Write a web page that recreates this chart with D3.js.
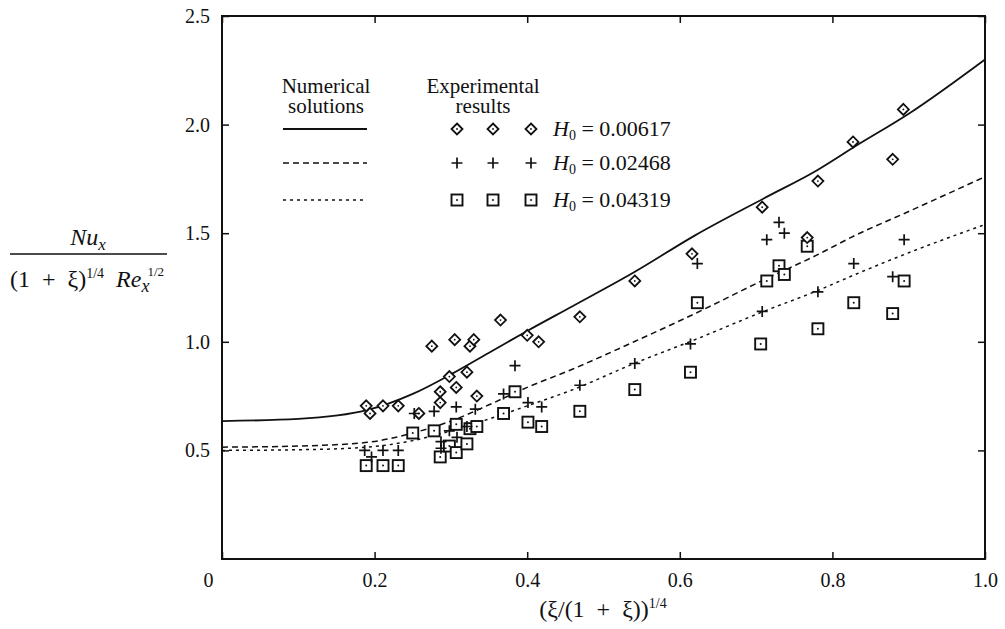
<!DOCTYPE html>
<html>
<head>
<meta charset="utf-8">
<script src="https://cdn.jsdelivr.net/npm/d3@7"></script>
<style>
body { margin: 0; background: #fff; }
svg { display: block; }
text { font-family: "Liberation Serif", "DejaVu Serif", serif; fill: #111; white-space: pre; }
</style>
</head>
<body>
<svg width="1005" height="629"></svg>
<script>
// values
var xTicks = [0, 0.2, 0.4, 0.6, 0.8, 1.0];
var yTicks = [0.5, 1.0, 1.5, 2.0, 2.5];

// numerical solutions (curves), read at these x positions
var curveX = [0, 0.1, 0.19, 0.25, 0.3, 0.35, 0.4, 0.46, 0.54, 0.62, 0.71, 0.78, 0.83, 0.9, 1.0];
var curveSolid = [0.635, 0.645, 0.685, 0.76, 0.85, 0.95, 1.05, 1.165, 1.32, 1.49, 1.66, 1.79, 1.90, 2.05, 2.30];
var curveDashed = [0.515, 0.52, 0.537, 0.58, 0.635, 0.71, 0.79, 0.875, 1.00, 1.13, 1.285, 1.40, 1.49, 1.60, 1.76];
var curveDotted = [0.50, 0.503, 0.515, 0.545, 0.59, 0.645, 0.705, 0.78, 0.90, 1.01, 1.14, 1.235, 1.31, 1.41, 1.54];

// experimental results, H0 = 0.00617 (diamonds)
var diamondX = [0.189, 0.194, 0.211, 0.231, 0.258, 0.275, 0.286, 0.286, 0.298, 0.305, 0.307, 0.321, 0.325, 0.33, 0.334, 0.365, 0.40, 0.415, 0.469, 0.541, 0.616, 0.708, 0.767, 0.781, 0.827, 0.879, 0.893];
var diamondY = [0.705, 0.67, 0.705, 0.705, 0.67, 0.98, 0.77, 0.72, 0.84, 1.01, 0.79, 0.86, 0.98, 1.01, 0.75, 1.10, 1.03, 1.00, 1.115, 1.28, 1.405, 1.62, 1.48, 1.74, 1.92, 1.84, 2.07];

// H0 = 0.02468 (plus)
var plusX = [0.187, 0.196, 0.211, 0.231, 0.252, 0.278, 0.287, 0.287, 0.298, 0.307, 0.308, 0.321, 0.332, 0.369, 0.384, 0.401, 0.419, 0.469, 0.541, 0.614, 0.623, 0.708, 0.714, 0.730, 0.737, 0.781, 0.828, 0.879, 0.894];
var plusY = [0.50, 0.47, 0.50, 0.50, 0.67, 0.68, 0.54, 0.51, 0.59, 0.70, 0.56, 0.61, 0.69, 0.76, 0.89, 0.72, 0.70, 0.80, 0.90, 0.99, 1.36, 1.14, 1.47, 1.55, 1.50, 1.23, 1.36, 1.30, 1.47];

// H0 = 0.04319 (squares)
var squareX = [0.189, 0.211, 0.231, 0.25, 0.278, 0.286, 0.298, 0.307, 0.307, 0.321, 0.325, 0.334, 0.369, 0.384, 0.401, 0.419, 0.469, 0.541, 0.614, 0.623, 0.706, 0.714, 0.730, 0.737, 0.767, 0.781, 0.828, 0.879, 0.894];
var squareY = [0.43, 0.43, 0.43, 0.58, 0.59, 0.47, 0.52, 0.62, 0.49, 0.53, 0.60, 0.61, 0.67, 0.77, 0.63, 0.61, 0.68, 0.78, 0.86, 1.18, 0.99, 1.28, 1.35, 1.31, 1.44, 1.06, 1.18, 1.13, 1.28];

var legendLabels = ["0.00617", "0.02468", "0.04319"];

function drawChart() {
	var svg = d3.select("svg");
	var mLeft = 222, mRight = 985, mTop = 16, mBottom = 559;

	var x = d3.scaleLinear().domain([0, 1]).range([mLeft, mRight]);
	var y = d3.scaleLinear().domain([0, 2.5]).range([mBottom, mTop]);

	// frame
	svg.append("rect")
		.attr("x", mLeft).attr("y", mTop)
		.attr("width", mRight - mLeft).attr("height", mBottom - mTop)
		.attr("fill", "none").attr("stroke", "#111").attr("stroke-width", 2);

	// axes, ticks pointing inward on all four sides
	var fmt = function(d) { return d === 0 ? "0" : d3.format(".1f")(d); };

	var xAxis = svg.append("g").attr("transform", "translate(0," + mBottom + ")")
		.call(d3.axisBottom(x).tickValues(xTicks).tickFormat(fmt).tickSizeInner(-7).tickSizeOuter(0).tickPadding(14));
	var yAxis = svg.append("g").attr("transform", "translate(" + mLeft + ",0)")
		.call(d3.axisLeft(y).tickValues(yTicks).tickFormat(fmt).tickSizeInner(-7).tickSizeOuter(0).tickPadding(12));
	svg.append("g").attr("transform", "translate(0," + mTop + ")")
		.call(d3.axisTop(x).tickValues(xTicks).tickFormat("").tickSizeInner(-7).tickSizeOuter(0));
	svg.append("g").attr("transform", "translate(" + mRight + ",0)")
		.call(d3.axisRight(y).tickValues(yTicks).tickFormat("").tickSizeInner(-7).tickSizeOuter(0));

	svg.selectAll(".domain").remove();
	svg.selectAll(".tick line").attr("stroke", "#111").attr("stroke-width", 1.5);
	svg.selectAll(".tick text").style("font-size", "20px").style("font-family", "Liberation Serif").attr("fill", "#111");
	xAxis.selectAll(".tick text").filter(function(d) { return d === 0; }).attr("dx", -14);

	// curves
	var line = function(ys) {
		return d3.line()
			.x(function(d, i) { return x(curveX[i]); })
			.y(function(d) { return y(d); })
			.curve(d3.curveMonotoneX)(ys);
	};
	var curves = [
		{ v: curveSolid, dash: null, w: 1.8 },
		{ v: curveDashed, dash: "6,4", w: 1.5 },
		{ v: curveDotted, dash: "3,4", w: 1.5 }
	];
	curves.forEach(function(c) {
		svg.append("path")
			.attr("d", line(c.v))
			.attr("fill", "none")
			.attr("stroke", "#111")
			.attr("stroke-width", c.w)
			.attr("stroke-dasharray", c.dash);
	});

	// markers
	function diamond(g) {
		g.append("path").attr("d", "M0,-5.5L5.5,0L0,5.5L-5.5,0Z")
			.attr("fill", "#fff").attr("stroke", "#111").attr("stroke-width", 1.8);
		g.append("circle").attr("r", 0.9).attr("fill", "#111");
	}
	function plus(g) {
		g.append("path").attr("d", "M-5.5,0H5.5M0,-5.5V5.5")
			.attr("stroke", "#111").attr("stroke-width", 1.7);
	}
	function square(g) {
		g.append("rect").attr("x", -5.5).attr("y", -5.5).attr("width", 11).attr("height", 11)
			.attr("fill", "#fff").attr("stroke", "#111").attr("stroke-width", 1.9);
		g.append("circle").attr("r", 1).attr("fill", "#111");
	}

	var pts = svg.append("g");
	squareX.forEach(function(v, i) {
		pts.append("g").attr("transform", "translate(" + x(v) + "," + y(squareY[i]) + ")").call(square);
	});
	diamondX.forEach(function(v, i) {
		pts.append("g").attr("transform", "translate(" + x(v) + "," + y(diamondY[i]) + ")").call(diamond);
	});
	plusX.forEach(function(v, i) {
		pts.append("g").attr("transform", "translate(" + x(v) + "," + y(plusY[i]) + ")").call(plus);
	});

	// legend
	var leg = svg.append("g");
	leg.append("text").attr("x", 326).attr("y", 93).attr("text-anchor", "middle").style("font-size", "21px").text("Numerical");
	leg.append("text").attr("x", 326).attr("y", 113).attr("text-anchor", "middle").style("font-size", "21px").text("solutions");
	leg.append("text").attr("x", 483).attr("y", 93).attr("text-anchor", "middle").style("font-size", "21px").text("Experimental");
	leg.append("text").attr("x", 483).attr("y", 113).attr("text-anchor", "middle").style("font-size", "21px").text("results");

	var legY = [129, 163, 200];
	var markers = [diamond, plus, square];
	curves.forEach(function(c, i) {
		leg.append("line")
			.attr("x1", 283).attr("x2", 367).attr("y1", legY[i]).attr("y2", legY[i])
			.attr("stroke", "#111").attr("stroke-width", c.w).attr("stroke-dasharray", c.dash);
		[457, 493, 531].forEach(function(mx) {
			leg.append("g").attr("transform", "translate(" + mx + "," + legY[i] + ")").call(markers[i]);
		});
		var t = leg.append("text").attr("x", 553).attr("y", legY[i] + 7).style("font-size", "22px");
		t.append("tspan").style("font-style", "italic").text("H");
		t.append("tspan").attr("dy", 4).style("font-size", "14px").text("0");
		t.append("tspan").attr("dy", -4).text(" = " + legendLabels[i]);
	});

	// y axis label (fraction)
	var yl = svg.append("g");
	var num = yl.append("text").attr("x", 88).attr("y", 245).attr("text-anchor", "middle").style("font-size", "24px");
	num.append("tspan").style("font-style", "italic").text("Nu");
	num.append("tspan").attr("dy", 5).style("font-style", "italic").style("font-size", "17px").text("x");
	yl.append("line").attr("x1", 10).attr("x2", 167).attr("y1", 254).attr("y2", 254)
		.attr("stroke", "#111").attr("stroke-width", 1.3);
	var den = yl.append("text").attr("x", 87).attr("y", 287).attr("text-anchor", "middle").style("font-size", "24px");
	den.append("tspan").text("(1  +  ξ)");
	den.append("tspan").attr("dy", -9).style("font-size", "14px").text("1/4");
	den.append("tspan").attr("dy", 9).style("font-style", "italic").text("  Re");
	den.append("tspan").attr("dy", 5).style("font-style", "italic").style("font-size", "18px").text("x");
	den.append("tspan").attr("dy", -16).attr("dx", -2).style("font-size", "13px").text("1/2");

	// x axis label
	var xl = svg.append("text").attr("x", 603).attr("y", 617).attr("text-anchor", "middle").style("font-size", "24px");
	xl.append("tspan").text("(ξ/(1  +  ξ))");
	xl.append("tspan").attr("dy", -9).style("font-size", "14px").text("1/4");
}

drawChart();
</script>
</body>
</html>
